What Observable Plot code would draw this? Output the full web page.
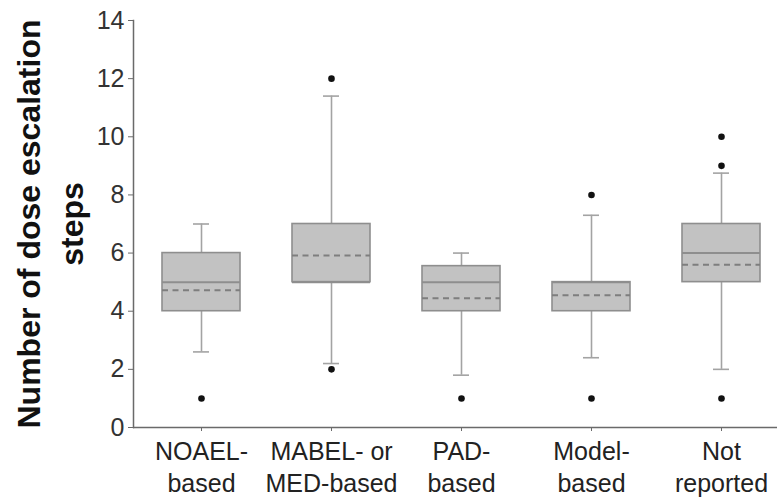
<!DOCTYPE html>
<html><head><meta charset="utf-8">
<script src="https://cdn.jsdelivr.net/npm/d3@7"></script>
<script src="https://cdn.jsdelivr.net/npm/@observablehq/plot@0.6"></script>
<style>body{margin:0;background:#fff}</style>
</head><body><div id="chart"></div>
<script>
const categories = ["NOAEL-based", "MABEL- or MED-based", "PAD-based", "Model-based", "Not reported"];
const tickLabels = ["NOAEL-\nbased", "MABEL- or\nMED-based", "PAD-\nbased", "Model-\nbased", "Not\nreported"];
const q1 = [4, 5, 4, 4, 5];
const q3 = [6, 7, 5.55, 5, 7];
const median = [5, 5, 5, 5, 6];
const mean = [4.72, 5.92, 4.45, 4.55, 5.6];
const whiskerLow = [2.6, 2.2, 1.8, 2.4, 2.0];
const whiskerHigh = [7.0, 11.4, 6.0, 7.3, 8.75];
const outlierCategory = [0, 1, 1, 2, 3, 3, 4, 4, 4];
const outlierValue = [1, 12, 2, 1, 8, 1, 10, 9, 1];
const yTicks = [0, 2, 4, 6, 8, 10, 12, 14];
const yLabel = "Number of dose escalation\nsteps";

const rows = categories.map((c, i) => ({cat: c, q1: q1[i], q3: q3[i], med: median[i], mean: mean[i], wlo: whiskerLow[i], whi: whiskerHigh[i]}));
const outliers = outlierCategory.map((c, i) => ({cat: categories[c], v: outlierValue[i]}));

const chart = Plot.plot({
  width: 777, height: 500,
  marginTop: 20, marginBottom: 73, marginLeft: 133, marginRight: 0,
  style: {fontFamily: "'Liberation Sans', Arial, sans-serif", background: "#fff", overflow: "hidden"},
  x: {domain: categories, range: [135, 787], paddingInner: 0.4, paddingOuter: 0.2, label: null},
  y: {domain: [0, 14], label: null},
  marks: [
    Plot.ruleX(rows, {x: "cat", y1: "wlo", y2: "q1", stroke: "#a3a3a3", strokeWidth: 1.6}),
    Plot.ruleX(rows, {x: "cat", y1: "q3", y2: "whi", stroke: "#a3a3a3", strokeWidth: 1.6}),
    Plot.tickY(rows, {x: "cat", y: "wlo", insetLeft: 31, insetRight: 31, stroke: "#a3a3a3", strokeWidth: 1.6}),
    Plot.tickY(rows, {x: "cat", y: "whi", insetLeft: 31, insetRight: 31, stroke: "#a3a3a3", strokeWidth: 1.6}),
    Plot.barY(rows, {x: "cat", y1: "q1", y2: "q3", fill: "#c2c2c2", stroke: "#8e8e8e", strokeWidth: 1.6}),
    Plot.tickY(rows, {x: "cat", y: "med", stroke: "#8e8e8e", strokeWidth: 2}),
    Plot.tickY(rows, {x: "cat", y: "mean", stroke: "#7e7e7e", strokeWidth: 2, strokeDasharray: "6,4.5"}),
    Plot.dot(outliers, {x: "cat", y: "v", r: 3.3, fill: "#111", stroke: "none"}),
    Plot.ruleY([0], {stroke: "#6a6a6a", strokeWidth: 1.5}),
    Plot.frame({anchor: "left", stroke: "#6a6a6a", strokeWidth: 1.5}),
    Plot.axisY({ticks: yTicks, tickSize: 5, tickPadding: 4, fontSize: 25, stroke: "#6a6a6a", fill: "#333", label: null}),
    Plot.axisX({tickSize: 4, tickPadding: 5, fontSize: 25, lineHeight: 1.3, stroke: "#6a6a6a", fill: "#222", label: null,
      tickFormat: (d) => tickLabels[categories.indexOf(d)]}),
    Plot.text([yLabel], {text: (d) => d, frameAnchor: "left", rotate: -90, dx: -86, textAnchor: "middle", lineAnchor: "middle", fontSize: 32, fontWeight: "bold", lineHeight: 1.34, fill: "#111"})
  ]
});
document.getElementById("chart").append(chart);
</script>
</body></html>
